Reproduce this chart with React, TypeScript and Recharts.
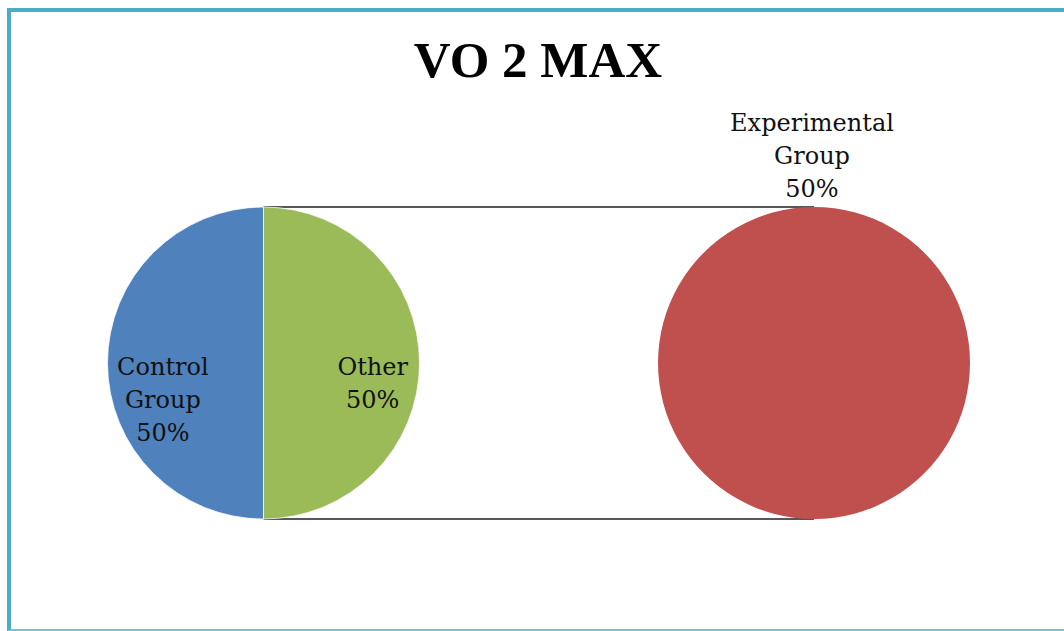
import React from "react";
import { PieChart, Pie, Cell, Customized } from "recharts";

// ---- data ----
const categories: string[] = ["Control Group", "Experimental Group"];
const values: number[] = [50, 50];
const splitCount = 1; // last N categories go to the secondary pie
const otherLabel = "Other";
const title = "VO 2 MAX";
const colors: string[] = ["#4F81BD", "#9BBB59", "#C0504D"];

const total = values.reduce((a, b) => a + b, 0);
const mainCats = categories.slice(0, categories.length - splitCount);
const mainVals = values.slice(0, values.length - splitCount);
const secCats = categories.slice(categories.length - splitCount);
const secVals = values.slice(values.length - splitCount);
const otherValue = secVals.reduce((a, b) => a + b, 0);

const mainData = [
  ...mainCats.map((c, i) => ({ name: c, value: mainVals[i] })),
  { name: otherLabel, value: otherValue },
];
const secData = secCats.map((c, i) => ({ name: c, value: secVals[i] }));

// ---- layout ----
const W = 1064;
const H = 631;
const R = 156;
const MAIN = { cx: 263.5, cy: 363 };
const SEC = { cx: 814, cy: 363 };
const FONT = "'DejaVu Serif', serif";
const LINE_H = 33;

const pct = (v: number) => `${Math.round((v / total) * 100)}%`;

const labelLines = (name: string, value: number) => [...name.split(" "), pct(value)];

const mainLabel = (props: any) => {
  const { cx, cy, midAngle, outerRadius, payload, index } = props;
  const rad = (Math.PI / 180) * midAngle;
  const frac = index === 0 ? 0.645 : 0.7;
  const x = cx + outerRadius * frac * Math.cos(rad);
  const y0 = cy + 12;
  const lines = labelLines(payload.name, payload.value);
  return (
    <text
      key={`ml-${index}`}
      x={x}
      y={y0}
      textAnchor="middle"
      fontFamily={FONT}
      fontSize={24}
      fill="#111"
    >
      {lines.map((l, i) => (
        <tspan key={i} x={x} dy={i === 0 ? 0 : LINE_H}>
          {l}
        </tspan>
      ))}
    </text>
  );
};

const secLabel = (props: any) => {
  const { cx, cy, outerRadius, payload, index } = props;
  const lines = labelLines(payload.name, payload.value);
  const x = cx - 2;
  const yLast = cy - outerRadius - 10;
  const y0 = yLast - LINE_H * (lines.length - 1);
  return (
    <text
      key={`sl-${index}`}
      x={x}
      y={y0}
      textAnchor="middle"
      fontFamily={FONT}
      fontSize={24}
      fill="#111"
    >
      {lines.map((l, i) => (
        <tspan key={i} x={x} dy={i === 0 ? 0 : LINE_H}>
          {l}
        </tspan>
      ))}
    </text>
  );
};

const Connectors = () => (
  <g>
    <line x1={MAIN.cx} y1={MAIN.cy - R} x2={SEC.cx} y2={SEC.cy - R} stroke="#1f1f1f" strokeWidth={1.5} />
    <line x1={MAIN.cx} y1={MAIN.cy + R} x2={SEC.cx} y2={SEC.cy + R} stroke="#1f1f1f" strokeWidth={1.5} />
  </g>
);

export default function App() {
  return (
    <div
      style={{
        position: "absolute",
        left: 0,
        top: 0,
        width: W,
        height: H,
        overflow: "hidden",
        background: "#fff",
      }}
    >
      <div
        style={{
          position: "absolute",
          left: 7,
          top: 8,
          width: W,
          height: H - 8,
          boxSizing: "border-box",
          borderTop: "4px solid #4BACC6",
          borderLeft: "4px solid #4BACC6",
          borderBottom: "2px solid #6FC3DA",
        }}
      />
      <div style={{ position: "absolute", left: 0, top: 0 }}>
        <PieChart width={W} height={H} margin={{ top: 0, right: 0, bottom: 0, left: 0 }}>
          <text
            x={538}
            y={77}
            textAnchor="middle"
            fontFamily="'Liberation Serif', 'Times New Roman', serif"
            fontWeight="bold"
            fontSize={51}
            fill="#000"
          >
            {title}
          </text>
          <Customized component={Connectors} />
          <Pie
            data={mainData}
            dataKey="value"
            nameKey="name"
            cx={MAIN.cx}
            cy={MAIN.cy}
            outerRadius={R}
            startAngle={90}
            endAngle={450}
            stroke="#ffffff"
            strokeWidth={0.75}
            label={mainLabel}
            labelLine={false}
            isAnimationActive={false}
          >
            {mainData.map((d, i) => (
              <Cell key={d.name} fill={colors[i]} />
            ))}
          </Pie>
          <Pie
            data={secData}
            dataKey="value"
            nameKey="name"
            cx={SEC.cx}
            cy={SEC.cy}
            outerRadius={R}
            startAngle={90}
            endAngle={450}
            stroke="none"
            label={secLabel}
            labelLine={false}
            isAnimationActive={false}
          >
            {secData.map((d, i) => (
              <Cell key={d.name} fill={colors[mainData.length + i]} />
            ))}
          </Pie>
        </PieChart>
      </div>
    </div>
  );
}
